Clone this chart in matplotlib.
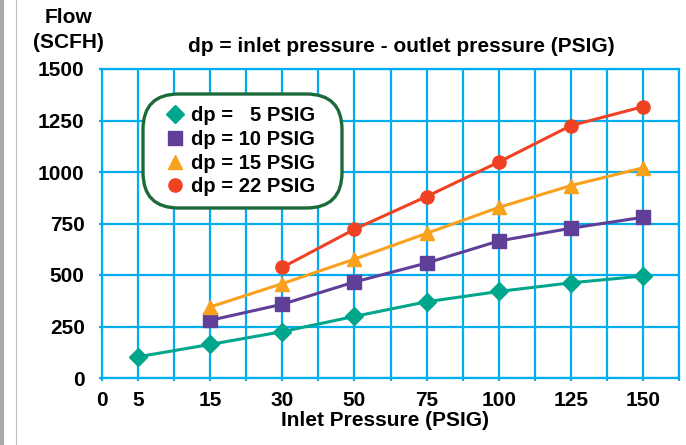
import matplotlib.pyplot as plt
import numpy as np
from matplotlib.lines import Line2D
from matplotlib.patches import FancyBboxPatch

plt.rcParams['font.family'] = ['Liberation Sans', 'DejaVu Sans']
plt.rcParams['font.weight'] = 'bold'

# Inlet pressure axis: tick values and the grid column each sits on
x_tick_vals = [0, 5, 15, 30, 50, 75, 100, 125, 150, 162.5]
x_tick_cols = [0, 1, 3, 5, 7, 9, 11, 13, 15, 16]
x_tick_labels = ['0', '5', '15', '30', '50', '75', '100', '125', '150']
y_ticks = [0, 250, 500, 750, 1000, 1250, 1500]

# Flow (SCFH) for each differential pressure
inlet_dp5 = [5, 15, 30, 50, 75, 100, 125, 150]
flow_dp5 = [103, 163, 225, 299, 370, 420, 462, 495]
inlet_dp10 = [15, 30, 50, 75, 100, 125, 150]
flow_dp10 = [280, 358, 466, 558, 665, 727, 780]
inlet_dp15 = [15, 30, 50, 75, 100, 125, 150]
flow_dp15 = [345, 458, 577, 702, 828, 934, 1020]
inlet_dp22 = [30, 50, 75, 100, 125, 150]
flow_dp22 = [537, 722, 881, 1048, 1225, 1317]

labels = ['dp =   5 PSIG', 'dp = 10 PSIG', 'dp = 15 PSIG', 'dp = 22 PSIG']
colors = ['#00a68c', '#5f3f98', '#f8a11d', '#ef4223']
markers = ['D', 's', '^', 'o']
msizes = [9, 10, 10, 9.5]

grid_c = '#00aeef'
fs = 15

fig = plt.figure(figsize=(6.86, 4.45), dpi=100)
ax = fig.add_axes([102 / 686, 1 - 378 / 445, 577 / 686, 309 / 445])


def fwd(v):
    return np.interp(v, x_tick_vals, x_tick_cols)


def inv(p):
    return np.interp(p, x_tick_cols, x_tick_vals)


ax.set_xscale('function', functions=(fwd, inv))
ax.set_xlim(0, 162.5)
ax.set_ylim(0, 1500)

series = [(inlet_dp5, flow_dp5), (inlet_dp10, flow_dp10),
          (inlet_dp15, flow_dp15), (inlet_dp22, flow_dp22)]
for (xs, ys), c, m, ms in zip(series, colors, markers, msizes):
    ax.plot(xs, ys, color=c, lw=2.2, marker=m, ms=ms, mec=c, zorder=3,
            clip_on=False)

# grid: a line on every column, major ticks carry labels
ax.set_xticks(x_tick_vals[:-1])
ax.set_xticklabels(x_tick_labels)
all_cols = inv(np.arange(17))
ax.set_xticks([v for v in all_cols if v not in x_tick_vals[:-1]], minor=True)
ax.set_yticks(y_ticks)
ax.grid(True, which='both', axis='x', color=grid_c, lw=1.6)
ax.grid(True, which='major', axis='y', color=grid_c, lw=1.6)
ax.set_axisbelow(True)
for s in ax.spines.values():
    s.set_color(grid_c)
    s.set_linewidth(1.6)
ax.tick_params(which='both', direction='out', length=2.5, width=1.6,
               color=grid_c, labelsize=fs)
ax.tick_params(axis='x', pad=7)
ax.tick_params(axis='y', pad=10)
for lab in ax.get_xticklabels() + ax.get_yticklabels():
    lab.set_fontweight('bold')

ax.set_xlabel('Inlet Pressure (PSIG)', fontsize=fs, fontweight='bold',
              va='center')
ax.xaxis.set_label_coords((385 - 102) / 577, -(420 - 378) / 309)

fig.text(68 / 686, 1 - 30 / 445, 'Flow\n(SCFH)', ha='center', va='center',
         fontsize=fs, fontweight='bold', linespacing=1.4)
fig.text(401 / 686, 1 - 47 / 445, 'dp = inlet pressure - outlet pressure (PSIG)',
         ha='center', va='center', fontsize=fs, fontweight='bold')

# rounded legend frame
box = FancyBboxPatch((143 / 686, 1 - 208 / 445), 199 / 686, 114 / 445,
                     boxstyle='round,pad=0,rounding_size=0.052',
                     transform=fig.transFigure, facecolor='white',
                     edgecolor='#1b6b3a', lw=2.4, zorder=4,
                     mutation_aspect=686 / 445, clip_on=False)
ax.add_patch(box)

handles = [Line2D([], [], color=c, marker=m, ls='None', ms=ms, mec=c)
           for c, m, ms in zip(colors, markers, msizes)]
leg = ax.legend(handles, labels, loc='upper left',
                bbox_to_anchor=(167 / 686, 1 - 106 / 445),
                bbox_transform=fig.transFigure, frameon=False,
                prop={'weight': 'bold', 'size': 14.5}, handlelength=0.8,
                handletextpad=0.4, labelspacing=0.24, borderpad=0,
                borderaxespad=0)
leg.set_zorder(5)

# page margin lines on the left
fig.add_artist(Line2D([2 / 686, 2 / 686], [0, 1], color='#a7a9ac', lw=3))
fig.add_artist(Line2D([16 / 686, 16 / 686], [0, 1], color='#bcbec0', lw=0.8))

fig.savefig('out.png', dpi=100)
